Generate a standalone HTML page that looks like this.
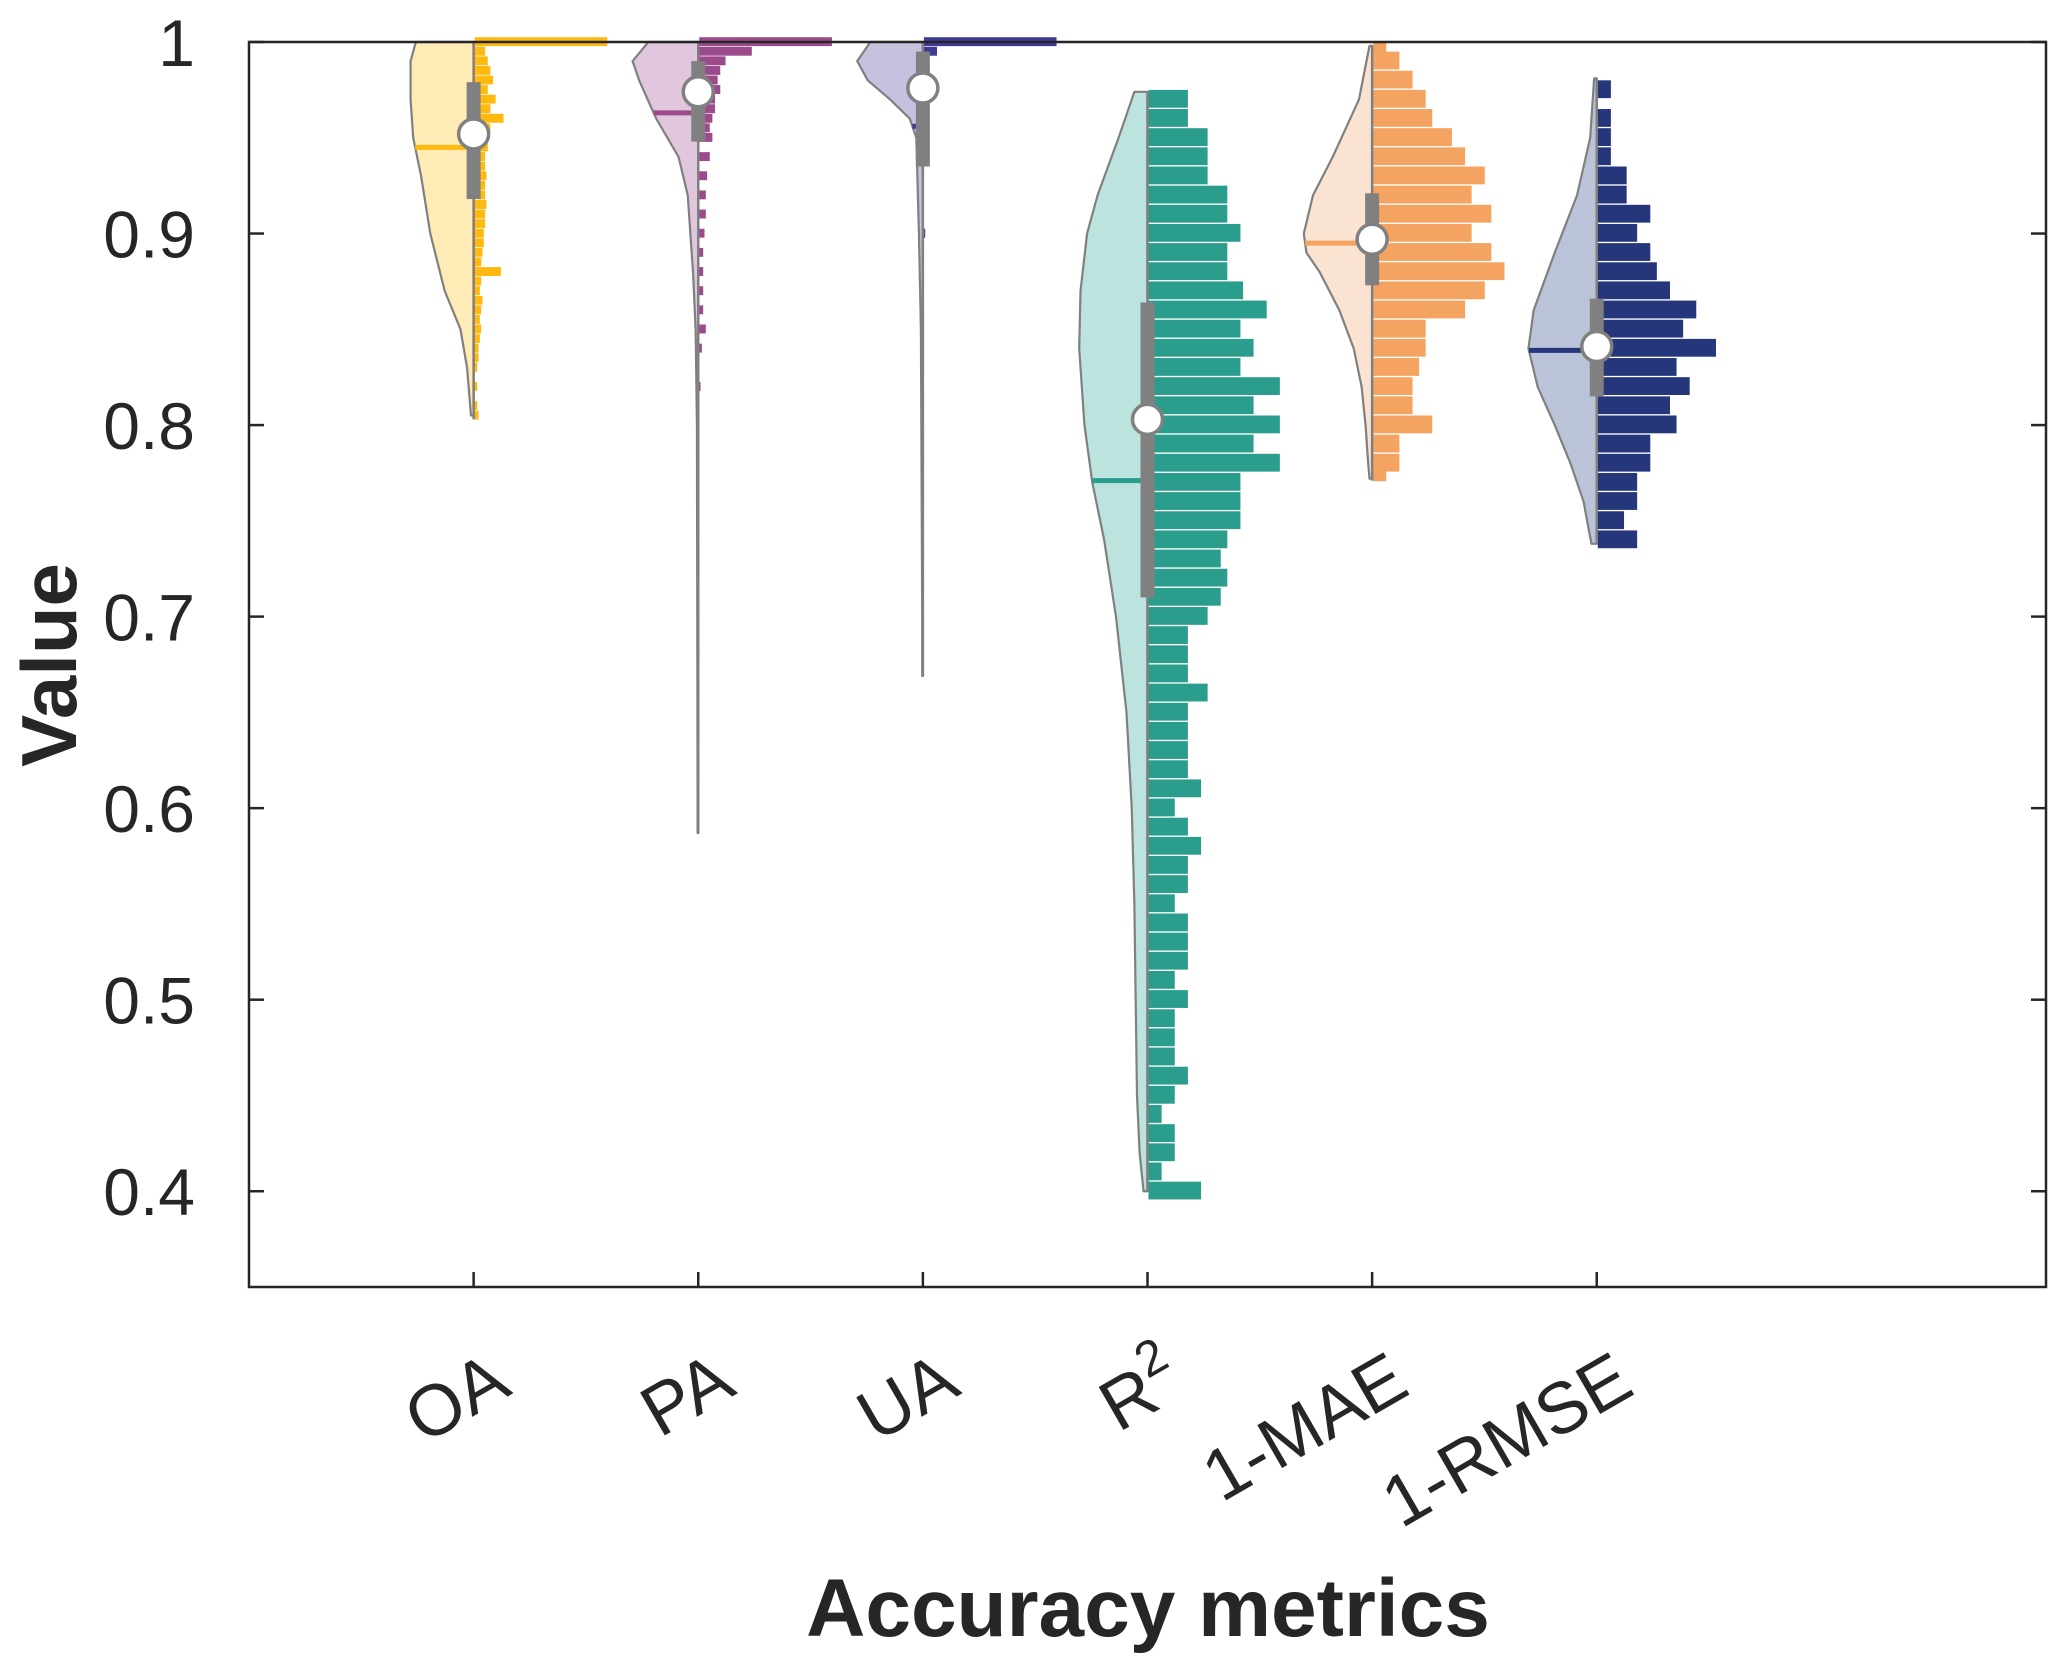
<!DOCTYPE html>
<html><head><meta charset="utf-8"><style>
html,body{margin:0;padding:0;background:#fff;}
svg{display:block;font-family:"Liberation Sans",Arial,sans-serif;}
</style></head><body>
<svg id="chart" width="2067" height="1670" viewBox="0 0 2067 1670">
<rect width="2067" height="1670" fill="#fff"/>
<g id="marks"></g>
<g id="axes"></g>
</svg>
<script>
const categories = ["OA","PA","UA","R2","1-MAE","1-RMSE"];
const lineColors = ["#FFB90F","#9B4A8C","#3E3A96","#2A9D8C","#F4A460","#25367A"];
const fillColors = ["#FFEBB5","#E0C7DE","#C5C2E0","#BCE3DE","#FBE3D1","#BBC3D8"];
const yTicks = [0.4,0.5,0.6,0.7,0.8,0.9,1];
const yTickLabels = ["0.4","0.5","0.6","0.7","0.8","0.9","1"];
// boxplot stats: min, q1, median, q3, max, mean
const minVals = [0.803,0.587,0.669,0.400,0.771,0.738];
const q1Vals = [0.918,0.948,0.935,0.710,0.873,0.815];
const medVals = [0.952,0.974,0.976,0.803,0.897,0.841];
const q3Vals = [0.979,0.990,0.995,0.864,0.921,0.866];
const maxVals = [1.0,1.0,1.0,0.974,0.998,0.981];
const meanVals = [0.945,0.963,0.956,0.771,0.895,0.839];
// violin density (value, relative half-width)
const violinY = [
 [1.0,0.99,0.97,0.95,0.93,0.9,0.87,0.85,0.83,0.805],
 [1.0,0.99,0.98,0.96,0.94,0.92,0.9,0.88,0.85,0.8,0.6,0.587],
 [1.0,0.99,0.98,0.97,0.96,0.95,0.9,0.85,0.7,0.669],
 [0.974,0.95,0.92,0.9,0.87,0.84,0.8,0.77,0.74,0.7,0.65,0.6,0.55,0.5,0.45,0.42,0.4],
 [0.998,0.97,0.94,0.92,0.9,0.89,0.88,0.86,0.84,0.82,0.8,0.78,0.772],
 [0.981,0.95,0.92,0.89,0.86,0.84,0.82,0.8,0.78,0.76,0.745,0.738]
];
const violinW = [
 [44,48,48,46,40,33,22,10,5,2],
 [38,50,45,32,15,8,6,4,2,1,0.5,0.5],
 [40,50,42,25,10,5,3,1.5,0.5,0.5],
 [10,22,38,46,51,52,48,42,33,24,16,12,10,9,8,6,3],
 [2,10,30,45,52,50,40,25,14,8,5,3,2],
 [2,5,15,32,48,52,45,32,20,10,6,4]
];
// histogram bins (value, count)
const histY = [
 [1.0,0.995,0.99,0.985,0.98,0.975,0.97,0.965,0.96,0.955,0.95,0.945,0.94,0.935,0.93,0.925,0.92,0.915,0.91,0.905,0.9,0.895,0.89,0.885,0.88,0.875,0.87,0.865,0.86,0.855,0.85,0.845,0.84,0.835,0.83,0.82,0.81,0.805],
 [1.0,0.995,0.99,0.985,0.98,0.975,0.97,0.965,0.96,0.955,0.95,0.94,0.93,0.92,0.91,0.9,0.89,0.88,0.87,0.86,0.85,0.84,0.82],
 [1.0,0.995,0.99,0.98,0.97,0.96,0.95,0.94,0.9],
 [0.97,0.96,0.95,0.94,0.93,0.92,0.91,0.9,0.89,0.88,0.87,0.86,0.85,0.84,0.83,0.82,0.81,0.8,0.79,0.78,0.77,0.76,0.75,0.74,0.73,0.72,0.71,0.7,0.69,0.68,0.67,0.66,0.65,0.64,0.63,0.62,0.61,0.6,0.59,0.58,0.57,0.56,0.55,0.54,0.53,0.52,0.51,0.5,0.49,0.48,0.47,0.46,0.45,0.44,0.43,0.42,0.41,0.4],
 [0.995,0.99,0.98,0.97,0.96,0.95,0.94,0.93,0.92,0.91,0.9,0.89,0.88,0.87,0.86,0.85,0.84,0.83,0.82,0.81,0.8,0.79,0.78,0.775],
 [0.975,0.96,0.95,0.94,0.93,0.92,0.91,0.9,0.89,0.88,0.87,0.86,0.85,0.84,0.83,0.82,0.81,0.8,0.79,0.78,0.77,0.76,0.75,0.74]
];
const histN = [
 [101,8,10,12,14,10,16,12,22,12,10,10,8,8,9,8,8,9,8,8,7,7,6,5,20,5,4,6,5,4,5,4,3,3,2,2,2,3],
 [101,40,20,16,14,16,12,12,10,8,10,8,6,5,5,4,3,3,3,3,5,2,1],
 [101,10,4,3,3,2,2,2,1],
 [30,30,45,45,45,60,60,70,60,60,72,90,70,80,70,100,80,100,80,100,70,70,70,60,55,60,55,45,30,30,30,45,30,30,30,30,40,20,30,40,30,30,20,30,30,30,20,30,20,20,20,30,20,10,20,20,10,40],
 [10,20,30,40,45,60,70,85,75,90,75,90,100,85,70,40,40,35,30,30,45,20,20,10],
 [10,10,10,10,22,22,40,30,40,45,55,75,65,90,60,70,55,60,40,40,30,30,20,30]
];
const binW = [0.005,0.005,0.005,0.01,0.01,0.01];

const L=249,R=2046,T=42,B=1287, X0=0,X1=8, Y0=0.35,Y1=1.0;
const xs = v => L+(v-X0)/(X1-X0)*(R-L);
const ys = v => B-(v-Y0)/(Y1-Y0)*(B-T);
const unit = (R-L)/(X1-X0)/171;
const NS="http://www.w3.org/2000/svg";
function mk(tag,attrs,parent){const e=document.createElementNS(NS,tag);for(const k in attrs)e.setAttribute(k,attrs[k]);parent.appendChild(e);return e;}
const marks=document.getElementById('marks'), axes=document.getElementById('axes');

categories.forEach((c,i)=>{
  const cx=xs(i+1);
  const g=mk('g',{},marks);
  
  
  let d='M'+cx+','+ys(violinY[i][0]);
  violinY[i].forEach((v,j)=>{d+=' L'+(cx-violinW[i][j]*unit)+','+ys(v);});
  d+=' L'+cx+','+ys(violinY[i][violinY[i].length-1])+' Z';
  const vp=mk('path',{d:d,fill:fillColors[i],stroke:'#808080','stroke-width':2.2,'stroke-linejoin':'round'},g);
  
  
  const h=binW[i]*(B-T)/(Y1-Y0);
  histY[i].forEach((v,j)=>{
    const y=ys(v);
    const r=mk('rect',{x:cx+1,y:y-h/2,width:histN[i][j]*unit,height:Math.max(2.5,h*0.93),fill:lineColors[i]},g);
    
    
  });
  let wm=0; const vy=violinY[i], vw=violinW[i];
  for(let j=0;j<vy.length-1;j++){ if(meanVals[i]<=vy[j]&&meanVals[i]>=vy[j+1]){const t=(vy[j]-meanVals[i])/(vy[j]-vy[j+1]);wm=vw[j]+(vw[j+1]-vw[j])*t;} }
  const ml=mk('line',{x1:cx-wm*unit,x2:cx,y1:ys(meanVals[i]),y2:ys(meanVals[i]),stroke:lineColors[i],'stroke-width':5},g);
  
  
  const wl=mk('line',{x1:cx,x2:cx,y1:ys(minVals[i]),y2:ys(maxVals[i]),stroke:'#808080','stroke-width':2.5},g);
  
  
  const bx=mk('rect',{x:cx-7,y:ys(q3Vals[i]),width:14,height:ys(q1Vals[i])-ys(q3Vals[i]),fill:'#808080'},g);
  
  
  const md=mk('circle',{cx:cx,cy:ys(medVals[i]),r:15,fill:'#fff',stroke:'#808080','stroke-width':3.5},g);
  
  
});

const fr=mk('rect',{x:L,y:T,width:R-L,height:B-T,fill:'none',stroke:'#262626','stroke-width':2.5},axes);


yTicks.forEach((v,j)=>{
  const y=ys(v);
  const t1=mk('line',{x1:L,x2:L+15,y1:y,y2:y,stroke:'#262626','stroke-width':2.5},axes);
  
  
  const t2=mk('line',{x1:R-15,x2:R,y1:y,y2:y,stroke:'#262626','stroke-width':2.5},axes);
  
  
  const tx=mk('text',{x:L-54,y:y+24,'text-anchor':'end','font-size':66,fill:'#262626'},axes);
  tx.textContent=yTickLabels[j];
  
  
});
categories.forEach((c,i)=>{
  const x=xs(i+1);
  const t=mk('line',{x1:x,x2:x,y1:B,y2:B-15,stroke:'#262626','stroke-width':2.5},axes);
  
  
  const ax=x+40, ay=1393;
  const tx=mk('text',{x:ax,y:ay,'text-anchor':'end','font-size':72,fill:'#262626',transform:'rotate(-30 '+ax+' '+ay+')'},axes);
  if(c==='R2'){ tx.innerHTML='R<tspan font-size="50" dy="-32">2</tspan>'; }
  else tx.textContent=c;
  
  
});
const yt=mk('text',{x:0,y:0,'text-anchor':'middle','font-size':78,'font-weight':'bold',fill:'#262626',transform:'translate(76 665) rotate(-90)'},axes);
yt.textContent='Value';


const xt=mk('text',{x:1148,y:1636,'text-anchor':'middle','font-size':82,'font-weight':'bold',fill:'#262626'},axes);
xt.textContent='Accuracy metrics';


</script>
</body></html>
